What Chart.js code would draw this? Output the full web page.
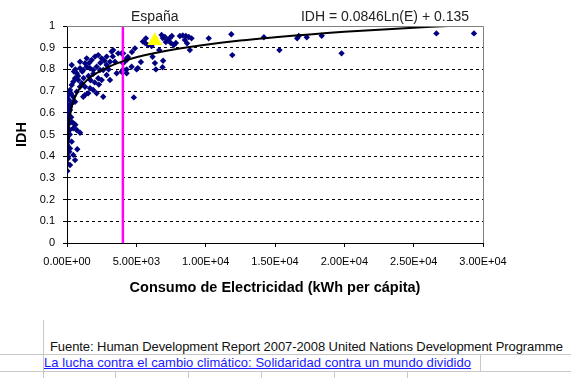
<!DOCTYPE html>
<html>
<head>
<meta charset="utf-8">
<script src="https://cdn.jsdelivr.net/npm/chart.js@4/dist/chart.umd.min.js"></script>
<style>
  html,body{margin:0;padding:0;background:#fff;}
  body{width:571px;height:378px;position:relative;overflow:hidden;font-family:Arial,"Liberation Sans",sans-serif;}
  #wrap{position:absolute;left:0;top:0;width:571px;height:310px;}
  .ln{position:absolute;background:#c8c8c8;}
  .txt{position:absolute;white-space:nowrap;font-size:13px;line-height:15px;}
</style>
</head>
<body>
<div id="wrap"><canvas id="c" width="571" height="310"></canvas></div>
<div class="ln" style="left:43px;top:320px;width:1px;height:58px;"></div>
<div class="ln" style="left:0;top:354px;width:571px;height:1px;"></div>
<div class="ln" style="left:0;top:371px;width:571px;height:1px;"></div>
<div class="ln" style="left:480px;top:354px;width:1px;height:17px;"></div>
<div class="ln" style="left:115px;top:371px;width:1px;height:7px;"></div>
<div class="ln" style="left:188px;top:371px;width:1px;height:7px;"></div>
<div class="ln" style="left:261px;top:371px;width:1px;height:7px;"></div>
<div class="ln" style="left:334px;top:371px;width:1px;height:7px;"></div>
<div class="ln" style="left:407px;top:371px;width:1px;height:7px;"></div>
<div class="txt" id="src" style="left:50px;top:339px;color:#111;letter-spacing:-0.075px;">Fuente: Human Development Report 2007-2008 United Nations Development Programme</div>
<div class="txt" id="lnk" style="left:44px;top:355px;color:#1a1aff;text-decoration:underline;letter-spacing:0.05px;">La lucha contra el cambio climático: Solidaridad contra un mundo dividido</div>
<script>
// Data
const countries = [
  [11850,0.962],[11920,0.866],[14200,0.948],[15320,0.889],[16600,0.943],[16710,0.954],[17290,0.948],[18370,0.955],[19800,0.874],[26640,0.966],[29350,0.966],
  [10220,0.943],[8980,0.943],[8660,0.920],[8860,0.889],[8140,0.954],[8350,0.956],[8570,0.954],[8780,0.949],[8500,0.935],
  [6820,0.959],[7060,0.949],[7270,0.935],[7490,0.922],[7700,0.912],[7130,0.926],[6910,0.945],[7420,0.945],[7850,0.922],[7560,0.954],
  [4900,0.897],[5620,0.923],[5690,0.943],[6100,0.908],[6650,0.889],[6170,0.858],[6930,0.840],[6410,0.800],[6890,0.810],[4820,0.671],
  [4300,0.800],[4660,0.812],[5020,0.800],[4050,0.800],[3940,0.874],[4180,0.843],[5470,0.928],[5830,0.912],[5110,0.806],[5330,0.834],
  [4390,0.857],[4680,0.880],[6340,0.829],
  [340,0.820],[940,0.835],[1300,0.828],[1420,0.851],[1780,0.843],[2020,0.859],[2250,0.866],[2500,0.851],[2860,0.859],[3220,0.882],
  [3330,0.889],[3690,0.874],[4050,0.874],[4300,0.843],[4050,0.828],[3460,0.835],[3100,0.835],[2860,0.820],[2610,0.797],[2380,0.797],
  [2140,0.812],[1890,0.797],[1660,0.805],[1420,0.812],[1170,0.797],[940,0.805],[700,0.782],[580,0.759],[450,0.743],[340,0.728],
  [220,0.705],[90,0.682],[30,0.659],[810,0.751],[1060,0.736],[1300,0.720],[1660,0.713],[1890,0.705],[2140,0.690],[1530,0.690],
  [1300,0.682],[2610,0.674],[2250,0.759],[2500,0.751],[2860,0.774],[3100,0.751],[3580,0.782],[3940,0.789],[4300,0.782],[940,0.720],
  [700,0.697],[450,0.674],[580,0.651],[340,0.644],[220,0.628],
  [1200,0.760],[1550,0.770],[1900,0.780],[2000,0.740],[2300,0.730],[1700,0.750],[600,0.800],[500,0.790],[800,0.770],[1100,0.790],
  [2700,0.840],[3300,0.860],[3000,0.800],[2400,0.830],[1600,0.830],
  [20,0.667],[1170,0.674],[20,0.636],[220,0.613],[10,0.590],[90,0.575],[340,0.559],[20,0.552],[450,0.529],[940,0.508],
  [700,0.521],[90,0.506],[20,0.482],[340,0.467],[20,0.452],[220,0.436],[740,0.432],[20,0.413],[450,0.406],[90,0.390],
  [580,0.382],[20,0.367],[220,0.359],[20,0.332],[450,0.651],[10,0.621],
  [100,0.600],[150,0.550],[60,0.530],[200,0.500],[120,0.470],[80,0.440],[160,0.420],[50,0.400],[300,0.580],[250,0.640],
  [120,0.660],[40,0.490],[180,0.520],[30,0.570],[280,0.690],[600,0.545],[500,0.550]
];
const spain = [[6330, 0.932]];
const spainLabel = "España";
const trendX = [10,20,50,100,200,400,700,1000,1500,2000,3000,4000,5000,6000,8000,10000,12500,15000,17500,20000,22500,25000,27500];
const trendY = [0.330,0.388,0.466,0.525,0.583,0.642,0.689,0.719,0.754,0.778,0.812,0.837,0.856,0.871,0.895,0.914,0.933,0.948,0.961,0.973,0.983,0.992,1.000];
const trendLabel = "IDH = 0.0846Ln(E) + 0.135";
const markerX = 4030;
const markerY = [0, 1];
const xTitle = "Consumo de Electricidad (kWh per cápita)";
const yTitle = "IDH";

function expFmt(v){
  let s = Number(v).toExponential(2).toUpperCase();
  return s.replace(/E([+-])(\d)$/, 'E$10$2');
}

const toXY = a => a.map(p => ({x:p[0], y:p[1]}));

const extras = {
  id:'extras',
  afterDraw(chart){
    const {ctx, chartArea:a, scales:{x,y}} = chart;
    ctx.save();
    ctx.strokeStyle = '#808080';
    ctx.lineWidth = 1;
    ctx.beginPath();
    ctx.moveTo(a.left, a.top+0.5); ctx.lineTo(a.right+0.5, a.top+0.5);
    ctx.lineTo(a.right+0.5, a.bottom);
    ctx.stroke();
    ctx.fillStyle = '#222';
    ctx.font = '14px Arial, "Liberation Sans", sans-serif';
    ctx.textBaseline = 'middle';
    ctx.textAlign = 'center';
    ctx.fillText(spainLabel, x.getPixelForValue(spain[0][0]), a.top - 9);
    ctx.textAlign = 'right';
    ctx.fillText(trendLabel, a.right - 14, a.top - 9);
    ctx.restore();
  }
};

new Chart(document.getElementById('c'), {
  type: 'scatter',
  data: {
    datasets: [
      {label:'España', data: toXY(spain), pointStyle:'triangle', pointRadius:8.5, backgroundColor:'#ffff00', borderColor:'#ffff00', borderWidth:0, order:0},
      {label:'trend', type:'line', data: trendX.map((v,i)=>({x:v,y:trendY[i]})), borderColor:'#000', borderWidth:2, pointRadius:0, tension:0.4, fill:false, order:1},
      {label:'marker', type:'line', data: markerY.map(v=>({x:markerX,y:v})), borderColor:'#ff00ff', borderWidth:2.5, pointRadius:0, fill:false, order:2},
      {label:'países', data: toXY(countries), pointStyle:'rectRot', pointRadius:3.2, backgroundColor:'#000080', borderColor:'#000080', borderWidth:0, order:3}
    ]
  },
  options: {
    responsive:false, animation:false,
    layout:{padding:{left:10, right:88, top:26, bottom:0}},
    plugins:{legend:{display:false}, tooltip:{enabled:false}},
    scales:{
      x:{
        type:'linear', min:0, max:30000,
        afterBuildTicks(s){ s.ticks = [0,5000,10000,15000,20000,25000,30000].map(v=>({value:v})); },
        afterFit(s){ s.height = 67; },
        grid:{drawOnChartArea:false, drawTicks:true, tickLength:4, color:'#000', tickColor:'#000'},
        border:{display:true, color:'#000', width:1},
        ticks:{callback:v=>expFmt(v), color:'#000', font:{family:'Arial, "Liberation Sans"', size:11}, padding:8, maxRotation:0, autoSkip:false},
        title:{display:true, text:xTitle, color:'#000', font:{family:'Arial, "Liberation Sans"', size:14.5, weight:'bold'}, padding:{top:4,bottom:13}}
      },
      y:{
        min:0, max:1,
        afterBuildTicks(s){ s.ticks = [0,0.1,0.2,0.3,0.4,0.5,0.6,0.7,0.8,0.9,1].map(v=>({value:v})); },
        afterFit(s){ s.width = 57; },
        grid:{drawTicks:true, tickLength:4, color:c=> (c.tick && (c.tick.value===0||c.tick.value===1)) ? 'rgba(0,0,0,0)' : '#000', tickColor:'#000', lineWidth:1},
        border:{display:true, color:'#000', width:1, dash:[3,3]},
        ticks:{callback:v=>String(Math.round(v*10)/10), color:'#000', font:{family:'Arial, "Liberation Sans"', size:11}, padding:8, autoSkip:false},
        title:{display:true, text:yTitle, color:'#000', font:{family:'Arial, "Liberation Sans"', size:14.5, weight:'bold'}, padding:{top:3,bottom:4}}
      }
    }
  },
  plugins:[extras]
});
</script>
</body>
</html>
